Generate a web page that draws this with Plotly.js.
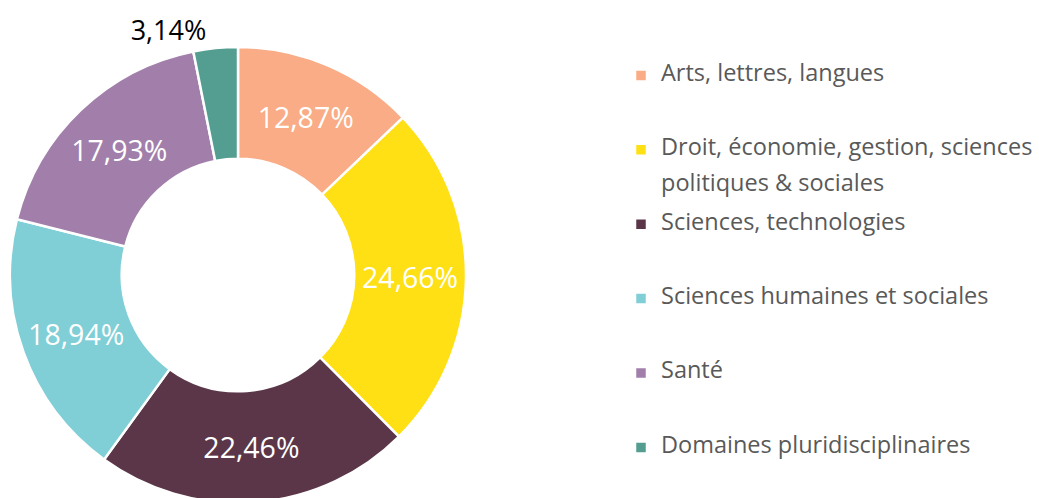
<!DOCTYPE html>
<html>
<head>
<meta charset="utf-8">
<script src="https://cdn.plot.ly/plotly-3.0.1.min.js"></script>
<style>html,body{margin:0;padding:0;overflow:hidden;background:#fff;}</style>
</head>
<body>
<div id="chart"></div>
<script>
const categories = [
  "Arts, lettres, langues",
  "Droit, économie, gestion, sciences<br>politiques & sociales",
  "Sciences, technologies",
  "Sciences humaines et sociales",
  "Santé",
  "Domaines pluridisciplinaires"
];
const values = [12.87, 24.66, 22.46, 18.94, 17.93, 3.14];
const colors = ["#F9AC85", "#FEE014", "#5A3648", "#80CED6", "#A17FAA", "#549E91"];
const textPositions = ["inside", "inside", "inside", "inside", "inside", "outside"];

// legend labels: visible text at 23.5px, padded to 4 lines for spacing
const legendLabels = categories.map(c => {
  const parts = c.split("<br>");
  const lines = [];
  parts.forEach((p, i) => { if (i > 0) lines.push(" "); lines.push('<span style="font-size:23.5px">' + p + '</span>'); });
  while (lines.length < 4) lines.push(" ");
  return lines.join("<br>");
});

const H = 503;
const trace = {
  type: "pie",
  labels: legendLabels,
  values: values,
  sort: false,
  direction: "clockwise",
  rotation: 0,
  hole: 0.51,
  marker: { colors: colors, line: { color: "#ffffff", width: 2.5 } },
  texttemplate: "%{value:.2f}%",
  textposition: textPositions,
  insidetextorientation: "horizontal",
  insidetextfont: { color: "#ffffff", size: 28.5, family: "Open Sans, sans-serif" },
  outsidetextfont: { color: "#000000", size: 27, family: "Open Sans, sans-serif" },
  domain: { x: [10/1039, 466/1039], y: [0, 456/H] },
  automargin: false,
  hoverinfo: "none"
};

const layout = {
  width: 1039,
  height: H,
  margin: { l: 0, r: 0, t: 0, b: 0, autoexpand: false },
  separators: ", ",
  paper_bgcolor: "#ffffff",
  showlegend: true,
  legend: {
    x: 621/1039,
    xanchor: "left",
    y: (H - 60)/H,
    yanchor: "top",
    valign: "top",
    font: { family: "Open Sans, sans-serif", size: 13.73, color: "#595959" },
    bgcolor: "rgba(0,0,0,0)"
  }
};

Plotly.newPlot("chart", [trace], layout, { staticPlot: true, displayModeBar: false });
</script>
</body>
</html>
